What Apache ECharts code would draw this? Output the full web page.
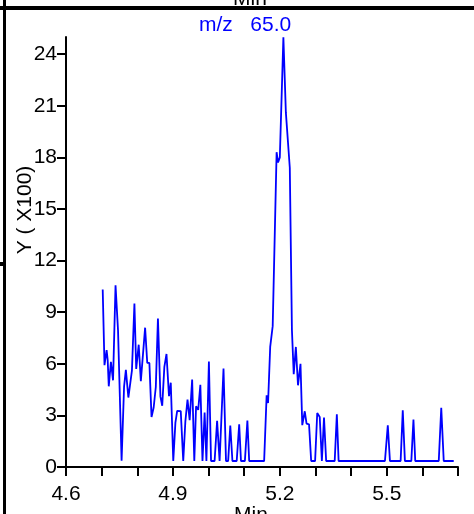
<!DOCTYPE html>
<html>
<head>
<meta charset="utf-8">
<script src="https://cdn.jsdelivr.net/npm/echarts@6/dist/echarts.min.js"></script>
<style>
  html, body { margin: 0; padding: 0; background: #fff; }
  #chart { width: 474px; height: 514px; }
</style>
</head>
<body>
<div id="chart"></div>
<script>
// retention time (min) of each vertex of the trace
const times = [
  4.703, 4.708, 4.714, 4.717, 4.720, 4.726, 4.732, 4.739, 4.746, 4.756,
  4.763, 4.768, 4.775, 4.785, 4.792, 4.797, 4.804, 4.810, 4.822, 4.828,
  4.834, 4.840, 4.846, 4.852, 4.858, 4.865, 4.870, 4.876, 4.882, 4.889,
  4.894, 4.901, 4.907, 4.912, 4.922, 4.929, 4.935, 4.941, 4.947, 4.954,
  4.960, 4.965, 4.971, 4.977, 4.983, 4.989, 4.994, 5.001, 5.007, 5.017,
  5.024, 5.031, 5.042, 5.049, 5.055, 5.061, 5.067, 5.079, 5.086, 5.091,
  5.102, 5.109, 5.114, 5.156, 5.163, 5.167, 5.173, 5.180, 5.191, 5.195,
  5.200, 5.210, 5.217, 5.228, 5.234, 5.239, 5.245, 5.251, 5.258, 5.263,
  5.270, 5.275, 5.282, 5.288, 5.299, 5.305, 5.312, 5.318, 5.324, 5.330,
  5.354, 5.360, 5.365, 5.495, 5.503, 5.509, 5.539, 5.545, 5.551, 5.569,
  5.575, 5.580, 5.646, 5.653, 5.660, 5.688
];
// intensity (x100)
const counts = [
  10.32, 5.92, 6.79, 6.21, 4.69, 6.11, 5.04, 10.57, 7.95, 0.36,
  4.69, 5.65, 4.04, 5.60, 9.51, 5.70, 7.11, 4.99, 8.10, 6.05,
  6.05, 2.91, 3.46, 4.65, 8.63, 4.09, 3.56, 5.82, 6.57, 4.12,
  4.90, 0.35, 2.58, 3.26, 3.25, 0.35, 2.67, 3.92, 2.72, 5.08,
  0.35, 3.53, 3.32, 4.78, 0.35, 3.16, 0.35, 6.13, 0.35, 0.35,
  2.68, 0.35, 5.72, 0.35, 0.35, 2.41, 0.35, 0.35, 2.48, 0.35,
  0.35, 2.70, 0.35, 0.35, 4.17, 3.72, 6.98, 8.19, 18.3, 17.7,
  18.0, 24.98, 20.6, 17.4, 7.95, 5.39, 6.98, 4.75, 6.0, 2.43,
  3.24, 2.52, 2.48, 0.35, 0.35, 3.14, 2.91, 0.35, 2.87, 0.35,
  0.35, 3.07, 0.35, 0.35, 2.43, 0.35, 0.35, 3.30, 0.35, 0.35,
  2.76, 0.35, 0.35, 3.44, 0.35, 0.35
];
const xLabels = [4.6, 4.9, 5.2, 5.5];
const yTicks = [0, 3, 6, 9, 12, 15, 18, 21, 24];

const font = "Liberation Sans";
const chart = echarts.init(document.getElementById("chart"));

chart.setOption({
  animation: false,
  title: {
    text: "m/z   65.0",
    left: 199,
    top: 15,
    padding: 0,
    textStyle: { color: "#0000ff", fontFamily: font, fontSize: 21, fontWeight: "normal" }
  },
  grid: { left: 66, right: 16, top: 37, bottom: 47, outerBoundsMode: "none", containLabel: false },
  xAxis: {
    type: "value",
    min: 4.6,
    max: 5.7,
    interval: 0.1,
    name: "Min",
    nameLocation: "middle",
    nameGap: 38,
    nameMoveOverlap: false,
    nameTextStyle: { color: "#000", fontFamily: font, fontSize: 21, padding: [0, 22, 0, 0] },
    axisLine: { lineStyle: { color: "#000", width: 2 } },
    axisTick: { length: 9, lineStyle: { color: "#000", width: 2 } },
    axisLabel: {
      customValues: xLabels,
      margin: 17,
      color: "#000",
      fontFamily: font,
      fontSize: 21,
      formatter: (v) => (xLabels.some((l) => Math.abs(l - v) < 1e-6) ? v.toFixed(1) : "")
    },
    splitLine: { show: false }
  },
  yAxis: {
    type: "value",
    min: 0,
    max: 25,
    interval: 3,
    name: "Y ( X100)",
    nameLocation: "middle",
    nameRotate: 90,
    nameGap: 30,
    nameMoveOverlap: false,
    nameTextStyle: { color: "#000", fontFamily: font, fontSize: 21, padding: [0, 0, 0, 84] },
    axisLine: { show: true, lineStyle: { color: "#000", width: 2 } },
    axisTick: { show: true, customValues: yTicks, length: 9, lineStyle: { color: "#000", width: 2 } },
    axisLabel: {
      customValues: yTicks,
      margin: 9,
      color: "#000",
      fontFamily: font,
      fontSize: 21,
      padding: [8, 0, 0, 0],
      formatter: (v) => (v > 24 ? "" : String(v))
    },
    splitLine: { show: false }
  },
  graphic: [
    { type: "rect", shape: { x: 0, y: 6, width: 474, height: 4 }, style: { fill: "#000" } },
    { type: "rect", shape: { x: 3, y: 0, width: 3, height: 514 }, style: { fill: "#000" } },
    { type: "rect", shape: { x: 0, y: 262, width: 5, height: 4 }, style: { fill: "#000" } },
    {
      type: "text",
      x: 250,
      y: 10,
      style: { text: "Min", fill: "#000", font: "21px " + font, align: "center", verticalAlign: "bottom" }
    }
  ],
  series: [
    {
      type: "line",
      data: times.map((t, i) => [t, counts[i]]),
      showSymbol: false,
      lineStyle: { color: "#0000ff", width: 1.8 },
      itemStyle: { color: "#0000ff" }
    }
  ]
});
</script>
</body>
</html>
